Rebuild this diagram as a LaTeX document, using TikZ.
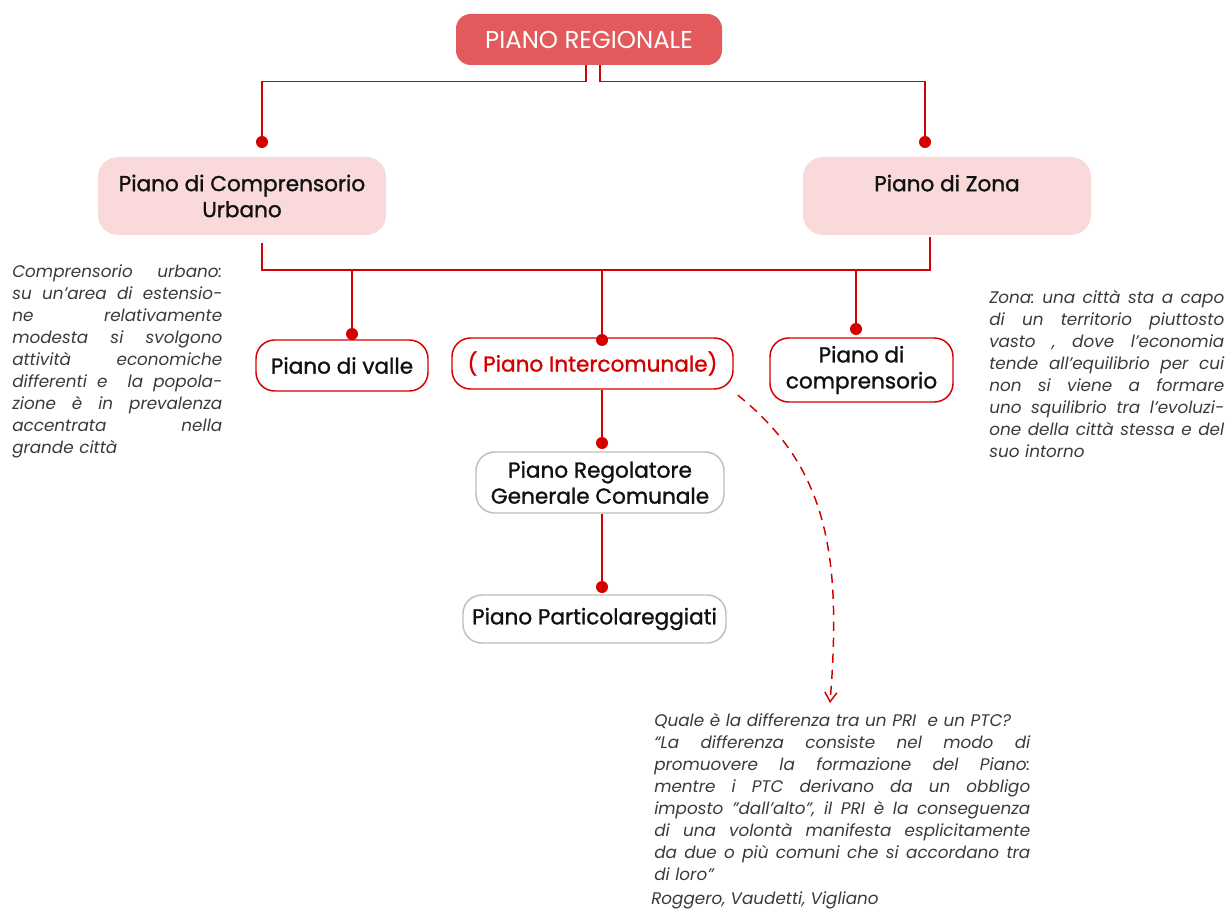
\documentclass[tikz,border=0pt]{standalone}
\usepackage{fontspec}
\setmainfont{Poppins}
\newfontfamily\labfont{Poppins}[FakeBold=1.2]
\usepackage{xcolor}
\usepackage{tikz}
\usetikzlibrary{arrows.meta}
\definecolor{regfill}{HTML}{E25A5B}
\definecolor{pinkfill}{HTML}{F9D9DA}
\definecolor{linered}{HTML}{D40000}
\definecolor{boxgrey}{HTML}{BFBFBF}
\definecolor{labtext}{HTML}{111111}
\definecolor{notetext}{HTML}{3A3A3A}
\newlength\notew
\newcommand{\jl}[1]{\makebox[\notew][s]{\spaceskip=0pt \xspaceskip=0pt #1}\\}
\tikzset{
  lab/.style={text=labtext, align=center, font=\labfont\fontsize{16.2}{19.5}\selectfont},
  topbox/.style={fill=regfill, rounded corners=11pt, text=white, align=center,
    font=\fontsize{18.3}{21}\selectfont, minimum width=199.5pt, minimum height=38.25pt},
  pinkbox/.style={lab, fill=pinkfill, rounded corners=15pt,
    minimum width=216pt, minimum height=58.5pt},
  redbox/.style={lab, draw=linered, line width=1.1pt, fill=white, rounded corners=14pt},
  greybox/.style={lab, draw=boxgrey, line width=1.1pt, fill=white, rounded corners=14pt},
  conn/.style={draw=linered, line width=1.1pt},
  dot/.style={fill=linered},
  note/.style={text=notetext, align=left, inner sep=0pt, anchor=north west,
    font=\fontsize{12.6}{16.5}\selectfont\itshape\frenchspacing}
}
\begin{document}
\begin{tikzpicture}[x=0.75pt, y=-0.75pt]
  \useasboundingbox (0,0) rectangle (1228,909);

  % boxes
  \node[topbox] (reg) at (589,39.5) {PIANO REGIONALE};
  \node[pinkbox] (cu) at (242,196) {Piano di Comprensorio\\Urbano};
  \node[pinkbox] (zo) at (947,196) {Piano di Zona\\\mbox{}};
  \node[redbox, minimum width=129pt, minimum height=38.25pt] (va) at (342,365.5) {Piano di valle};
  \node[redbox, text=linered, minimum width=210.75pt, minimum height=38.25pt] (ic) at (592.5,363.5) {( Piano Intercomunale)};
  \node[redbox, minimum width=137.25pt, minimum height=48pt] (co) at (861.5,370) {Piano di\\comprensorio};
  \node[greybox, minimum width=186pt, minimum height=45.75pt] (prg) at (600,482.5) {Piano Regolatore\\Generale Comunale};
  \node[greybox, minimum width=197.25pt, minimum height=36pt] (pp) at (594.5,619) {Piano Particolareggiati};

  % dot ends
  \coordinate (dcu) at (262,142);
  \coordinate (dzo) at (925,142);
  \coordinate (dva) at (352,334);
  \coordinate (dic) at (602,340);
  \coordinate (dco) at (856,329);
  \coordinate (dprg) at (602,443);
  \coordinate (dpp) at (602,587);
  \coordinate (busL) at (262,270);
  \coordinate (busR) at (930,270);
  \coordinate (qend) at (830,703);

  % connectors
  \draw[conn] ([xshift=-2.25pt]reg.south) -- ++(0,16) -| (dcu);
  \draw[conn] ([xshift=8.25pt]reg.south) -- ++(0,16) -| (dzo);
  \draw[conn] ([yshift=-6pt]cu.south -| busL) -- (busL) -- (busR) -- ([yshift=-1.5pt]zo.south -| busR);
  \draw[conn] (dva |- busL) -- (dva);
  \draw[conn] (dic |- busL) -- (dic);
  \draw[conn] (dco |- busL) -- (dco);
  \draw[conn] (ic.south -| dprg) -- (dprg);
  \draw[conn] (prg.south -| dpp) -- (dpp);
  \foreach \d in {dcu,dzo,dva,dic,dco,dprg,dpp}
    \fill[dot] (\d) circle (4.5pt);

  \draw[conn, dash pattern=on 7pt off 5pt, -{Straight Barb[length=7pt,width=9pt]}]
    ([xshift=3pt,yshift=-4pt]ic.south east) .. controls (827,467) and (842,553) .. (qend);

  % notes
  \node[note, text width=157.5pt] (ncu) at (12,264) {\global\notew=157.5pt%
    \jl{Comprensorio urbano:}
    \jl{su un’area di estensio-}
    \jl{ne relativamente}
    \jl{modesta si svolgono}
    \jl{attività economiche}
    \jl{differenti e \ la popola-}
    \jl{zione è in prevalenza}
    \jl{accentrata nella}
    grande città};
  \node[note, text width=176.25pt] (nzo) at (989,290) {\global\notew=176.25pt%
    \jl{Zona: una città sta a capo}
    \jl{di un territorio piuttosto}
    \jl{vasto , dove l’economia}
    \jl{tende all’equilibrio per cui}
    \jl{non si viene a formare}
    \jl{uno squilibrio tra l’evoluzi-}
    \jl{one della città stessa e del}
    suo intorno};
  \node[note, text width=290pt] (nq) at (654,713) {\global\notew=282pt%
    Quale è la differenza tra un PRI \ e un PTC?\\
    \jl{“La differenza consiste nel modo di}
    \jl{promuovere la formazione del Piano:}
    \jl{mentre i PTC derivano da un obbligo}
    \jl{imposto ”dall’alto”, il PRI è la conseguenza}
    \jl{di una volontà manifesta esplicitamente}
    \jl{da due o più comuni che si accordano tra}
    di loro”};
  \node[note] (nauth) at (651,891) {Roggero, Vaudetti, Vigliano};
\end{tikzpicture}
\end{document}
